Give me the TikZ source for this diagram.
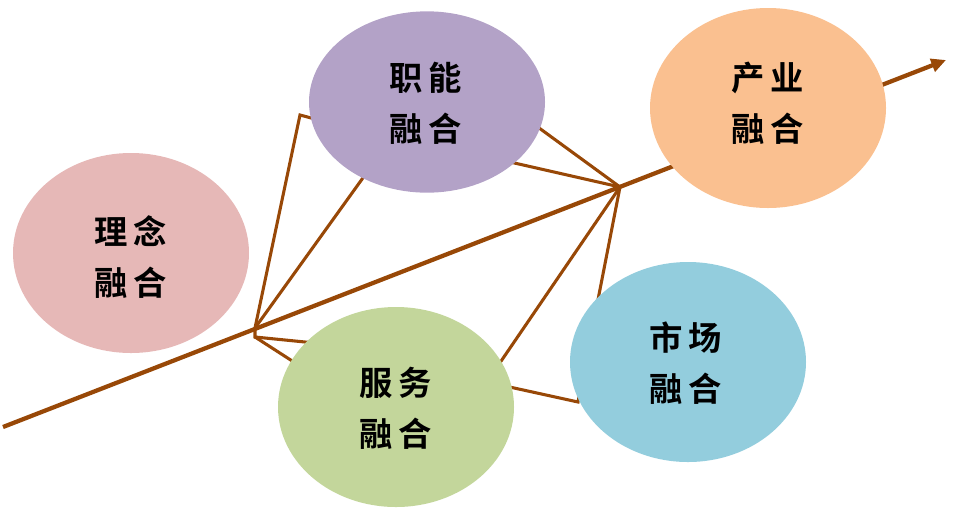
\documentclass[tikz,border=0pt]{standalone}
\usepackage{fontspec}
\newfontfamily\cjk{Noto Sans CJK SC Bold}
\usetikzlibrary{arrows.meta}
\definecolor{br}{HTML}{984807}
\begin{document}
\begin{tikzpicture}[x=0.75pt,y=-0.75pt,
  thin line/.style={draw=br,line width=2.3pt,line join=miter},
  blob/.style={ellipse,minimum width=177pt,minimum height=150pt,inner sep=0pt},
  lbl/.style={font=\cjk\fontsize{25}{38}\selectfont,align=center,text=black}]
\useasboundingbox (0,0) rectangle (966,508);
\coordinate (A) at (255,328);
\coordinate (A2) at (255,337);
\coordinate (B) at (620,187);
\coordinate (S) at (3,427);
\coordinate (E) at (946,60);
\coordinate (k1) at (300,115);
\coordinate (k2) at (578,402);
% side lines
\draw[thin line] (A) -- (k1) -- (315,119);
\draw[thin line] (A) -- (365,175);
\draw[thin line] (A) -- (A2) -- (315,343);
\draw[thin line] (A2) -- (300,366);
\draw[thin line] (B) -- (535,125);
\draw[thin line] (B) -- (510,162);
\draw[thin line] (B) -- (495,370);
\draw[thin line] (B) -- (k2) -- (505,386);
% main arrow
\draw[br,line width=3.2pt,-{Triangle[length=11pt,width=10pt]}] (S) -- (E);
% ellipses
\fill[fill={rgb,255:red,230;green,184;blue,183}] (131,253) ellipse [x radius=88.5pt,y radius=75pt];
\fill[fill={rgb,255:red,179;green,162;blue,199}] (427,102) ellipse [x radius=88.5pt,y radius=68pt];
\fill[fill={rgb,255:red,250;green,192;blue,144}] (768,108) ellipse [x radius=88.5pt,y radius=75pt];
\fill[fill={rgb,255:red,195;green,214;blue,155}] (396,407) ellipse [x radius=88.5pt,y radius=75pt];
\fill[fill={rgb,255:red,147;green,205;blue,221}] (688,362) ellipse [x radius=88.5pt,y radius=75pt];
% labels
\node[lbl] (n1) at (131,257) {理\,念\\融\,合};
\node[lbl] (n2) at (426,103) {职\,能\\融\,合};
\node[lbl] (n3) at (768,103) {产\,业\\融\,合};
\node[lbl] (n4) at (396,408) {服\,务\\融\,合};
\node[lbl] (n5) at (686,363) {市\,场\\融\,合};
\end{tikzpicture}
\end{document}
